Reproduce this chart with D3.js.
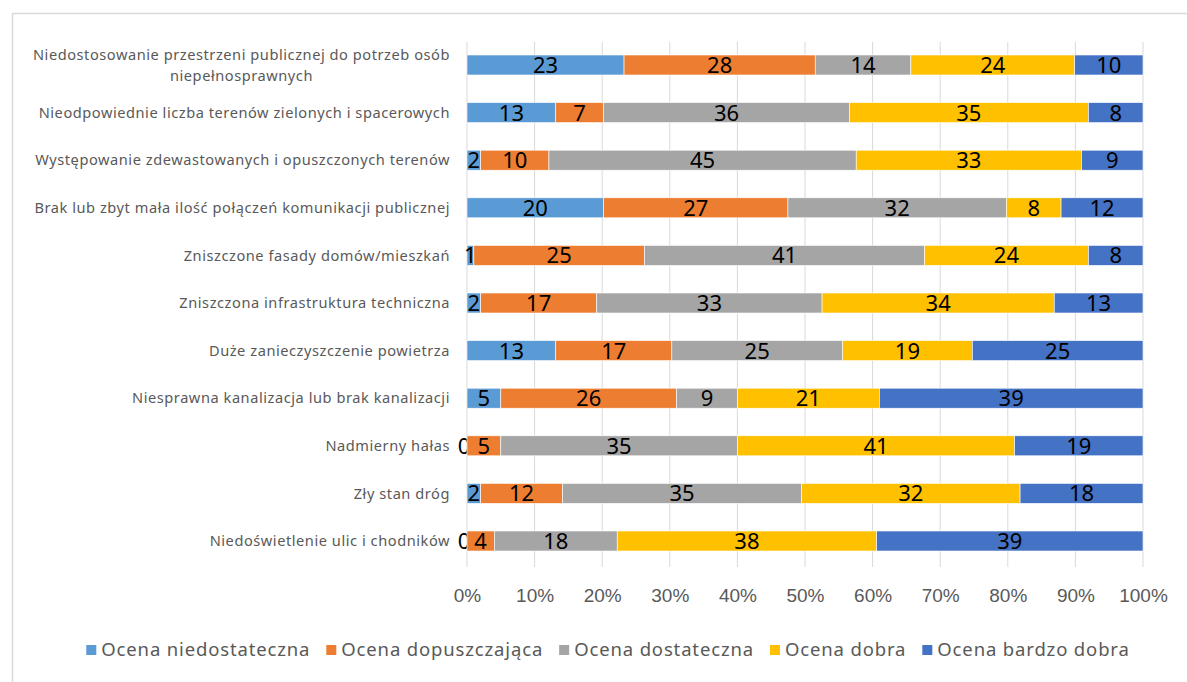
<!DOCTYPE html>
<html lang="pl">
<head>
<meta charset="UTF-8">
<title>Ocena problemów</title>
<script src="https://d3js.org/d3.v7.min.js"></script>
<style>
    body { margin: 0; background: #fff; }
    svg { font-family: "Noto Sans", "Open Sans", sans-serif; }
    .cat { fill: #595959; font-size: 14.6px; letter-spacing: 0.55px; }
    .tick text { fill: #595959; font-size: 19px; }
    .lbl { fill: #000; font-size: 22px; }
    .leg { fill: #595959; font-size: 18.5px; letter-spacing: 0.85px; }
</style>
</head>
<body>
<svg id="chart" width="1187" height="682"></svg>
<script>
    // categories, top to bottom
    let categories = [
        "Niedostosowanie przestrzeni publicznej do potrzeb osób|niepełnosprawnych",
        "Nieodpowiednie liczba terenów zielonych i spacerowych",
        "Występowanie zdewastowanych i opuszczonych terenów",
        "Brak lub zbyt mała ilość połączeń komunikacji publicznej",
        "Zniszczone fasady domów/mieszkań",
        "Zniszczona infrastruktura techniczna",
        "Duże zanieczyszczenie powietrza",
        "Niesprawna kanalizacja lub brak kanalizacji",
        "Nadmierny hałas",
        "Zły stan dróg",
        "Niedoświetlenie ulic i chodników"
    ];
    let seriesNames = ["Ocena niedostateczna", "Ocena dopuszczająca", "Ocena dostateczna", "Ocena dobra", "Ocena bardzo dobra"];
    let colors = ["#5B9BD5", "#ED7D31", "#A5A5A5", "#FFC000", "#4472C4"];

    let niedostateczna = [23, 13, 2, 20, 1, 2, 13, 5, 0, 2, 0];
    let dopuszczajaca  = [28, 7, 10, 27, 25, 17, 17, 26, 5, 12, 4];
    let dostateczna    = [14, 36, 45, 32, 41, 33, 25, 9, 35, 35, 18];
    let dobra          = [24, 35, 33, 8, 24, 34, 19, 21, 41, 32, 38];
    let bardzoDobra    = [10, 8, 9, 12, 8, 13, 25, 39, 19, 18, 39];

    let tickValues = [0, 0.1, 0.2, 0.3, 0.4, 0.5, 0.6, 0.7, 0.8, 0.9, 1];

    let series = [niedostateczna, dopuszczajaca, dostateczna, dobra, bardzoDobra];
    let rows = categories.map(function (c, i) {
        let row = {cat: c};
        seriesNames.forEach(function (s, j) { row[s] = series[j][i]; });
        return row;
    });

    let svg = d3.select("#chart");

    // chart frame
    svg.append("rect").attr("x", 12.5).attr("y", 13.5).attr("width", 1200).attr("height", 700)
        .attr("fill", "none").attr("stroke", "#d9d9d9").attr("stroke-width", 1.5);

    let x = d3.scaleLinear().domain([0, 1]).range([467, 1143]);
    let y = d3.scaleBand().domain(categories).range([41.2, 564.8]).paddingInner(0.58).paddingOuter(0.29);

    // gridlines
    svg.append("g").selectAll("line").data(tickValues).join("line")
        .attr("x1", d => x(d)).attr("x2", d => x(d))
        .attr("y1", 42).attr("y2", 567)
        .attr("stroke", "#d9d9d9").attr("stroke-width", 1);

    // x axis labels
    let xAxis = svg.append("g").attr("transform", "translate(0,588)")
        .call(d3.axisBottom(x).tickValues(tickValues).tickFormat(d3.format(".0%")).tickSize(0).tickPadding(0));
    xAxis.select(".domain").remove();
    xAxis.selectAll("text").attr("dy", "0.71em");

    let stack = d3.stack().keys(seriesNames).offset(d3.stackOffsetExpand);
    let stacked = stack(rows);

    let layers = svg.append("g").selectAll("g").data(stacked).join("g")
        .attr("fill", (d, i) => colors[i]);

    layers.selectAll("rect").data(d => d).join("rect")
        .attr("x", d => x(d[0]))
        .attr("y", d => y(d.data.cat))
        .attr("width", d => x(d[1]) - x(d[0]))
        .attr("height", y.bandwidth())
        .attr("stroke", "#fff").attr("stroke-width", 0.6);

    // data labels
    layers.selectAll("text").data(function (d) { return d.map(p => ({p: p, key: d.key})); }).join("text")
        .attr("class", "lbl")
        .attr("x", d => (x(d.p[0]) + x(d.p[1])) / 2 + (d.p[1] - d.p[0] === 0 ? -3 : 0))
        .attr("y", d => y(d.p.data.cat) + y.bandwidth() / 2)
        .attr("dy", "0.36em")
        .attr("text-anchor", "middle")
        .text(d => d.p.data[d.key]);

    // category labels
    let catG = svg.append("g");
    categories.forEach(function (c) {
        let parts = c.split("|");
        let cy = y(c) + y.bandwidth() / 2;
        if (parts.length === 1) {
            catG.append("text").attr("class", "cat")
                .attr("x", 450).attr("y", cy).attr("dy", "0.35em")
                .attr("text-anchor", "end").text(c);
        } else {
            let t = catG.append("text").attr("class", "cat").attr("text-anchor", "middle");
            t.append("tspan").text(parts[0]);
            let w = t.node().getComputedTextLength();
            let cx = 450 - w / 2;
            t.selectAll("tspan").remove();
            parts.forEach(function (p, k) {
                t.append("tspan").attr("x", cx).attr("y", cy - 10.5 + k * 21).attr("dy", "0.35em").text(p);
            });
        }
    });

    // legend
    let legend = svg.append("g").attr("transform", "translate(0,650)");
    let items = legend.selectAll("g").data(seriesNames).join("g");
    items.append("rect").attr("width", 10).attr("height", 10).attr("y", -5)
        .attr("fill", (d, i) => colors[i]);
    items.append("text").attr("class", "leg").attr("x", 15).attr("dy", "0.35em").text(d => d);
    let widths = [];
    items.each(function () { widths.push(this.getBBox().width); });
    let gap = 16;
    let total = d3.sum(widths) + gap * (widths.length - 1);
    let pos = 608 - total / 2;
    items.attr("transform", function (d, i) {
        let t = "translate(" + pos + ",0)";
        pos += widths[i] + gap;
        return t;
    });
</script>
</body>
</html>
